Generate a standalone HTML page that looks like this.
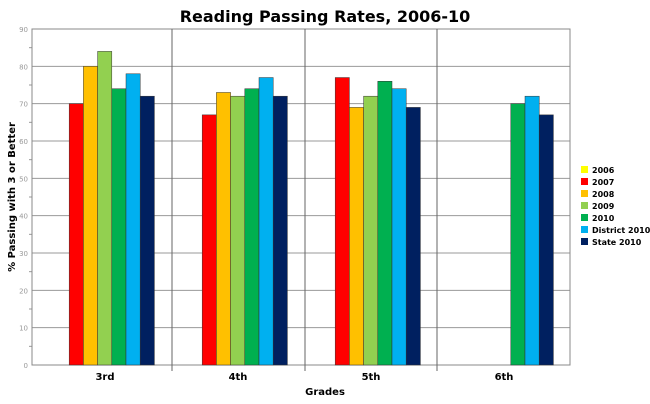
<!DOCTYPE html>
<html><head><meta charset="utf-8"><style>
body{margin:0;background:#fff;font-family:"DejaVu Sans","Liberation Sans",sans-serif;}
</style></head><body>
<svg width="650" height="400" xmlns="http://www.w3.org/2000/svg" id="c">
<text x="325" y="22" text-anchor="middle" font-size="16" font-weight="bold">Reading Passing Rates, 2006-10</text>
<text x="325" y="395" text-anchor="middle" font-size="10" font-weight="bold">Grades</text>
<text transform="translate(15,197) rotate(-90)" text-anchor="middle" font-size="10" font-weight="bold">% Passing with 3 or Better</text>
</svg>
<script>
const categories=["3rd","4th","5th","6th"];
const seriesNames=["2006","2007","2008","2009","2010","District 2010","State 2010"];
const colors=["#ffff00","#ff0000","#ffc000","#92d050","#00b050","#00b0f0","#002060"];
const s2006=[null,null,null,null];
const s2007=[70,67,77,null];
const s2008=[80,73,69,null];
const s2009=[84,72,72,null];
const s2010=[74,74,76,70];
const sDistrict=[78,77,74,72];
const sState=[72,72,69,67];
const yTicks=[0,10,20,30,40,50,60,70,80,90];
const series=[s2006,s2007,s2008,s2009,s2010,sDistrict,sState];
const NS="http://www.w3.org/2000/svg";
const svg=document.getElementById('c');
const L=32,R=570,T=29,B=365;
const y=v=>B-(v/90)*(B-T);
const dividers=[172,305,437];
const catX=i=>40+i*133;
const bw=14.2;
function mk(t,a){const e=document.createElementNS(NS,t);for(const k in a)e.setAttribute(k,a[k]);svg.appendChild(e);return e;}
yTicks.forEach(v=>{
 const g=mk('line',{x1:L,x2:R,y1:y(v),y2:y(v),stroke:'#999','stroke-width':1});
 
 
 const t=mk('text',{x:L-4,y:y(v)+3,'text-anchor':'end','font-size':7,fill:'#999'});
 t.textContent=v;
 
 
 if(v<90){const m=mk('line',{x1:L-3,x2:L,y1:y(v+5),y2:y(v+5),stroke:'#999'});
 
 }
});
const fr=mk('rect',{x:L,y:T,width:R-L,height:B-T,fill:'none',stroke:'#888'});


dividers.forEach(d=>{const l=mk('line',{x1:d,x2:d,y1:T,y2:B+6,stroke:'#666'});
 
 });
categories.forEach((c,i)=>{
 const t=mk('text',{x:catX(i)+65,y:B+15,'text-anchor':'middle','font-size':10,'font-weight':'bold'});
 t.textContent=c;
 
 
 series.forEach((s,j)=>{
  const v=s[i]; if(v==null) return;
  const x=catX(i)+15+j*bw;
  const r=mk('rect',{x:x,y:y(v),width:bw,height:B-y(v),fill:colors[j],stroke:'#333','stroke-width':0.5});
  
  
 });
});
seriesNames.forEach((n,j)=>{
 const yy=170+j*12;
 const r=mk('rect',{x:581,y:yy-4,width:7,height:7,fill:colors[j]});
 
 
 const t=mk('text',{x:592,y:yy+3,'font-size':8,'font-weight':'bold'});
 t.textContent=n;
 
 
});
</script>
</body></html>
